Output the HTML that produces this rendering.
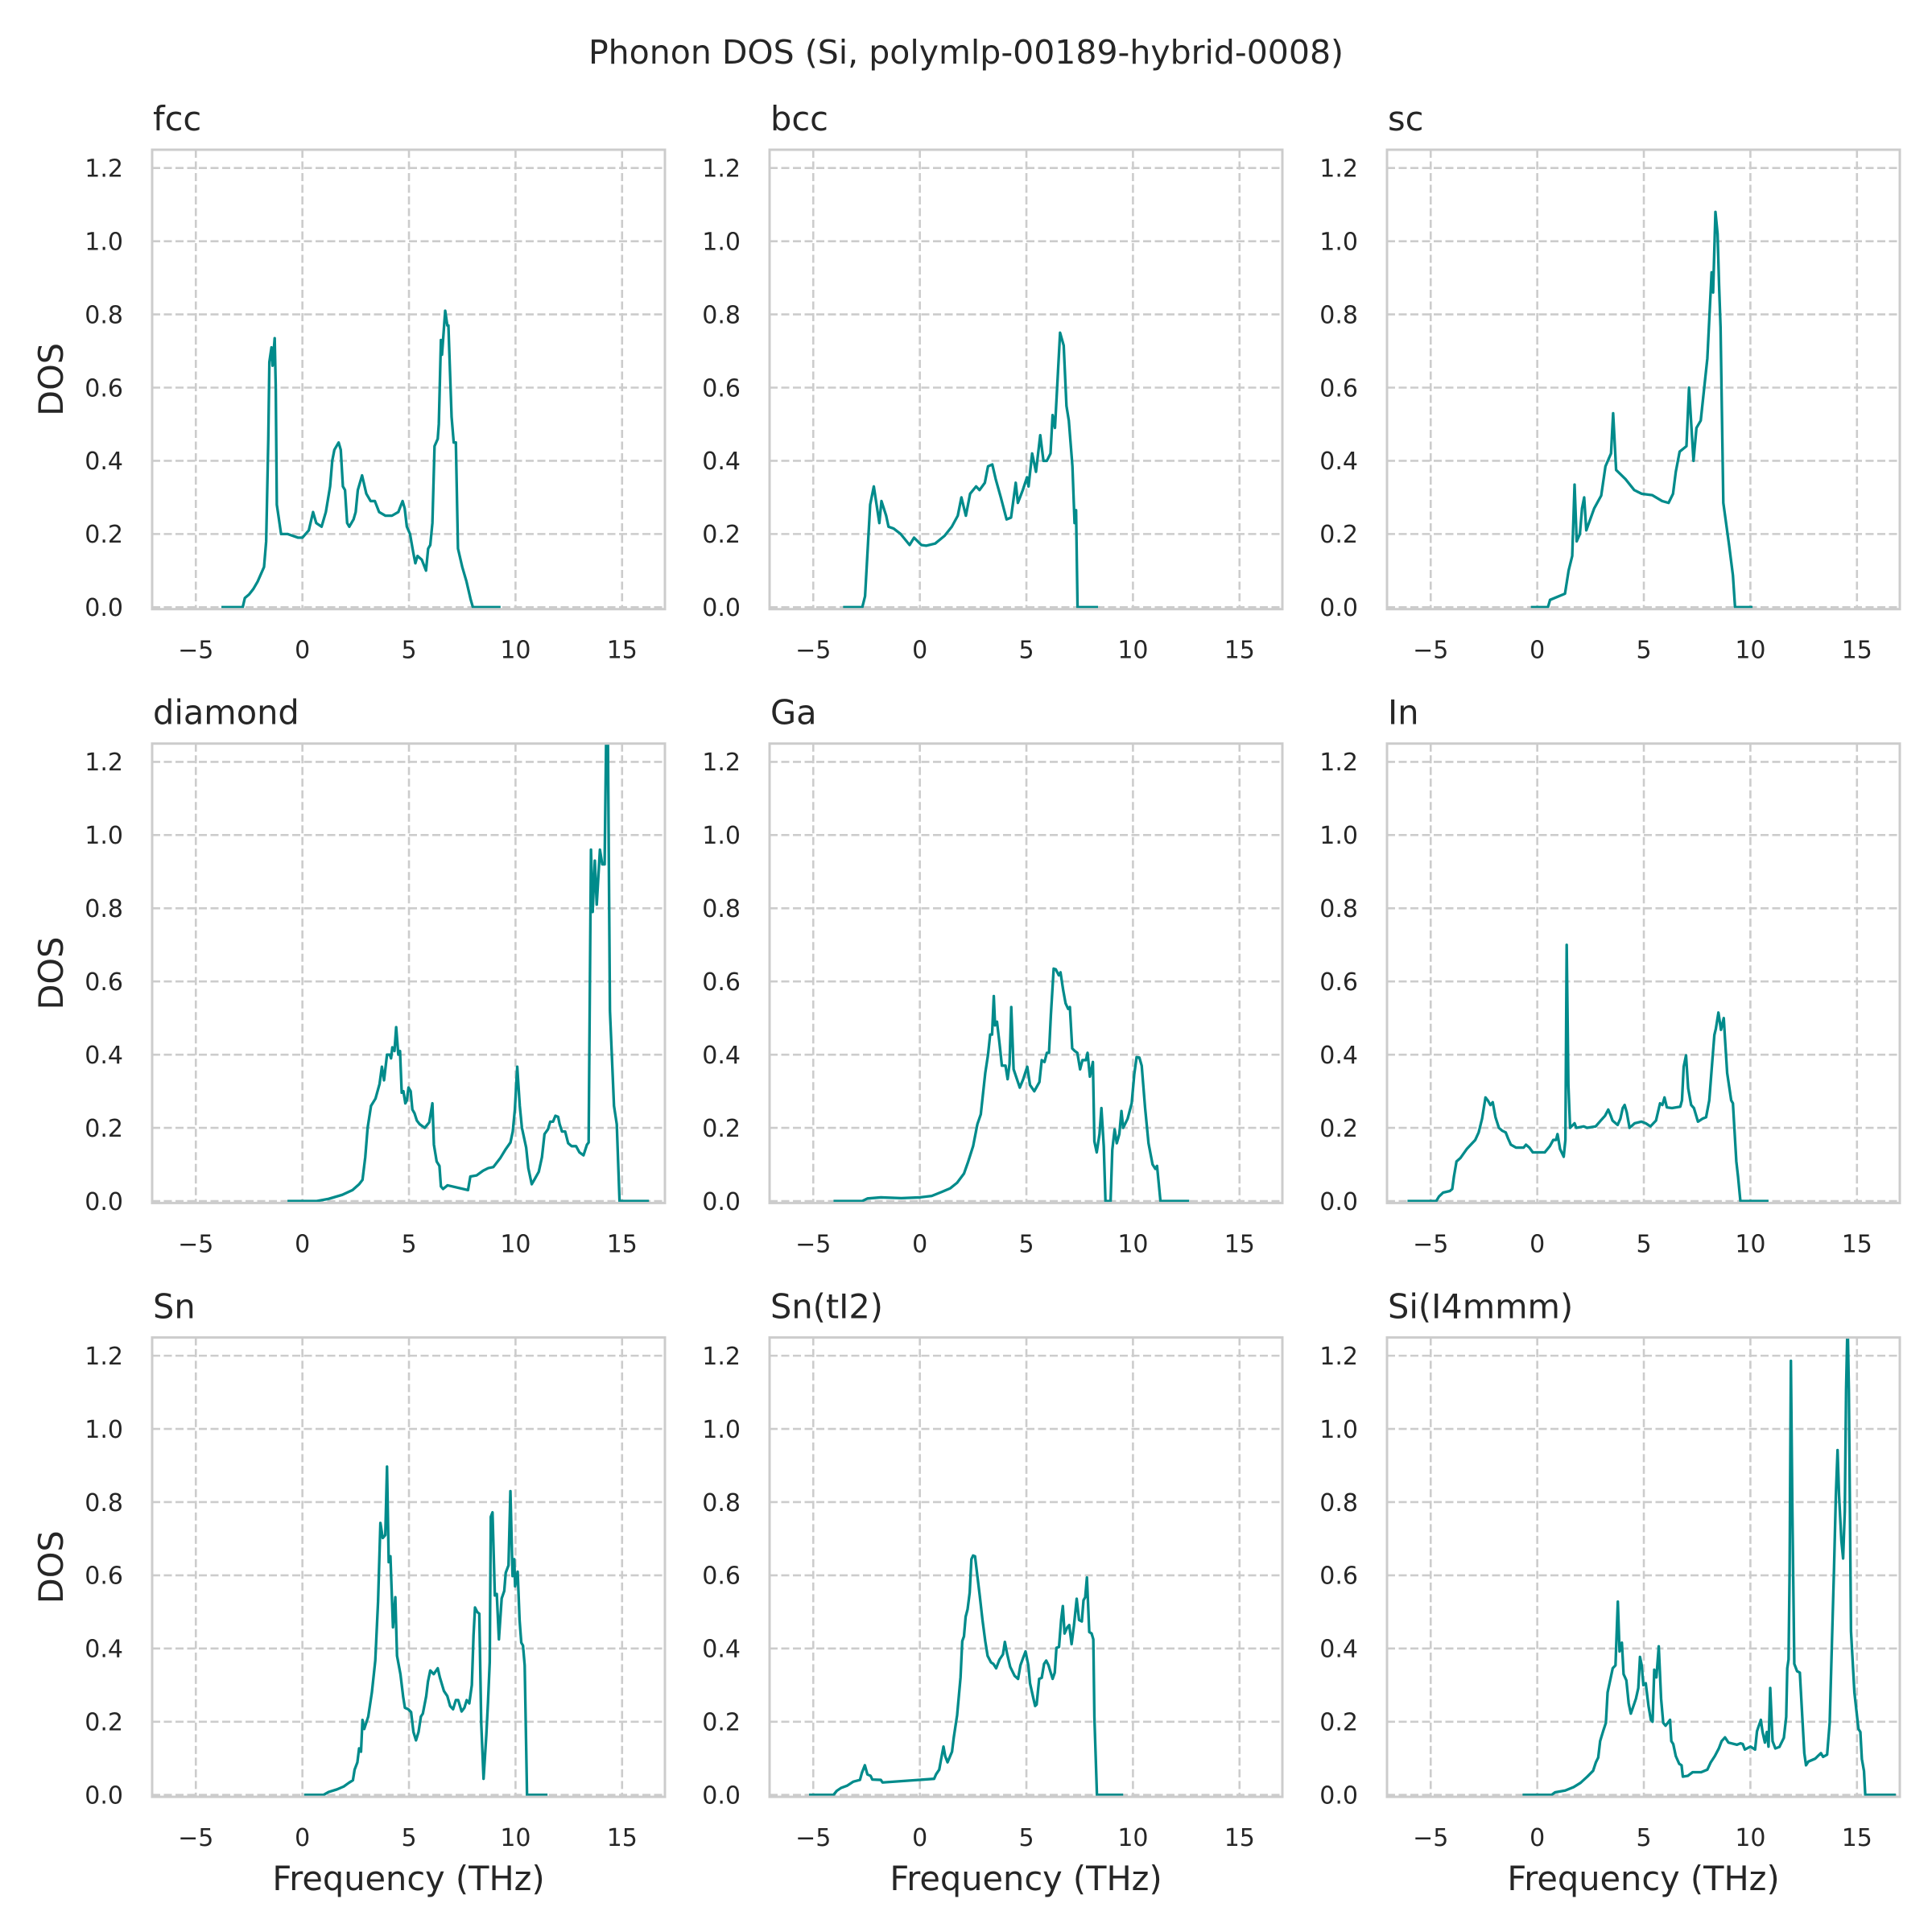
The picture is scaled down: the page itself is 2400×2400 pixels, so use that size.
<!DOCTYPE html>
<html>
<head>
<meta charset="utf-8">
<style>
  html,body{margin:0;padding:0;background:#fff;}
  svg{display:block;}
  text{font-family:"DejaVu Sans","Liberation Sans",sans-serif;fill:#262626;}
</style>
</head>
<body>
<svg id="fig" width="2400" height="2400" viewBox="0 0 2400 2400" xmlns="http://www.w3.org/2000/svg">
  <rect x="0" y="0" width="2400" height="2400" fill="#ffffff"/>
  <text x="1200" y="79" font-size="41" text-anchor="middle">Phonon DOS (Si, polymlp-00189-hybrid-0008)</text>
</svg>
<script>
// ---- chart data ----
const panelTitles = ["fcc","bcc","sc","diamond","Ga","In","Sn","Sn(tI2)","Si(I4mmm)"];
const xTicks = [-5,0,5,10,15];
const xTickLabels = ["\u22125","0","5","10","15"];
const yTicks = [0,0.2,0.4,0.6,0.8,1.0,1.2];
const yTickLabels = ["0.0","0.2","0.4","0.6","0.8","1.0","1.2"];
const xDomain = [-7.05, 17.01];
const yDomain = [-0.0053, 1.25];

const fccFreq = [-3.8,-2.8,-2.7,-2.5,-2.3,-2.1,-1.8,-1.7,-1.6,-1.55,-1.45,-1.4,-1.3,-1.25,-1.2,-1.0,-0.7,-0.2,0,0.3,0.5,0.65,0.9,1.1,1.3,1.4,1.5,1.7,1.8,1.9,2.0,2.1,2.2,2.4,2.5,2.6,2.8,3.0,3.2,3.4,3.6,3.9,4.1,4.2,4.5,4.7,4.8,4.9,5.05,5.2,5.3,5.4,5.6,5.8,5.9,6.0,6.1,6.2,6.35,6.4,6.5,6.55,6.7,6.8,6.85,7.0,7.1,7.2,7.3,7.5,7.7,7.9,8.0,9.3];
const fccDos  = [0,0,0.025,0.035,0.05,0.07,0.11,0.18,0.46,0.67,0.71,0.66,0.735,0.6,0.28,0.2,0.2,0.19,0.19,0.21,0.26,0.23,0.22,0.26,0.33,0.4,0.43,0.45,0.43,0.33,0.32,0.23,0.22,0.24,0.26,0.32,0.36,0.31,0.29,0.29,0.26,0.25,0.25,0.25,0.26,0.29,0.27,0.22,0.2,0.15,0.12,0.14,0.13,0.1,0.16,0.17,0.23,0.44,0.46,0.5,0.73,0.69,0.81,0.77,0.77,0.52,0.45,0.45,0.16,0.11,0.07,0.02,0,0];

const bccFreq = [-3.6,-2.7,-2.57,-2.33,-2.16,-1.9,-1.8,-1.58,-1.47,-1.23,-0.9,-0.48,-0.27,0.07,0.3,0.72,1.16,1.5,1.78,1.95,2.16,2.36,2.64,2.8,3.05,3.2,3.4,3.56,3.8,4.07,4.28,4.5,4.6,4.83,5.03,5.1,5.27,5.45,5.55,5.65,5.8,5.96,6.13,6.23,6.34,6.47,6.58,6.75,6.88,6.99,7.16,7.26,7.33,7.4,8.36];
const bccDos  = [0,0,0.03,0.28,0.33,0.23,0.29,0.25,0.22,0.215,0.2,0.17,0.19,0.17,0.168,0.174,0.195,0.22,0.25,0.3,0.25,0.31,0.33,0.32,0.34,0.385,0.39,0.35,0.3,0.24,0.245,0.34,0.285,0.32,0.355,0.33,0.42,0.37,0.42,0.47,0.4,0.4,0.42,0.525,0.49,0.63,0.75,0.715,0.55,0.51,0.385,0.23,0.265,0,0];

const scFreq = [-0.3,0.5,0.6,1.3,1.47,1.64,1.75,1.85,2.0,2.1,2.2,2.3,2.67,3.0,3.2,3.46,3.56,3.7,4.14,4.55,4.9,5.4,5.86,6.16,6.37,6.5,6.68,7.0,7.12,7.33,7.47,7.67,7.98,8.18,8.25,8.36,8.46,8.53,8.6,8.73,9.0,9.18,9.28,10.1];
const scDos  = [0,0,0.02,0.037,0.1,0.14,0.335,0.18,0.2,0.27,0.3,0.21,0.27,0.305,0.385,0.42,0.53,0.375,0.35,0.32,0.31,0.306,0.29,0.285,0.31,0.37,0.425,0.44,0.6,0.4,0.49,0.51,0.68,0.915,0.86,1.08,1.02,0.88,0.765,0.285,0.17,0.087,0,0];

const diamondFreq = [-0.7,0.67,1.23,1.87,2.35,2.66,2.82,2.95,3.06,3.22,3.43,3.62,3.73,3.83,3.97,4.1,4.16,4.22,4.32,4.4,4.5,4.58,4.66,4.74,4.83,4.9,4.98,5.08,5.16,5.26,5.37,5.5,5.74,5.95,6.1,6.17,6.3,6.43,6.5,6.6,6.81,7.77,7.88,8.17,8.48,8.72,8.96,9.28,9.52,9.76,9.87,9.97,10.08,10.2,10.3,10.5,10.6,10.76,10.88,11.09,11.24,11.36,11.52,11.63,11.76,11.87,12.0,12.07,12.18,12.33,12.47,12.63,12.84,13.0,13.19,13.35,13.43,13.54,13.62,13.72,13.81,13.96,14.07,14.18,14.26,14.33,14.43,14.62,14.75,14.88,16.26];
const diamondDos  = [0,0,0.006,0.017,0.03,0.046,0.058,0.12,0.2,0.26,0.28,0.32,0.367,0.33,0.4,0.4,0.39,0.42,0.41,0.475,0.4,0.41,0.296,0.3,0.267,0.275,0.31,0.3,0.25,0.24,0.22,0.21,0.2,0.215,0.267,0.154,0.108,0.096,0.04,0.033,0.043,0.03,0.067,0.07,0.083,0.09,0.093,0.117,0.14,0.16,0.19,0.25,0.367,0.26,0.2,0.146,0.09,0.046,0.058,0.08,0.12,0.183,0.196,0.217,0.217,0.233,0.23,0.21,0.19,0.19,0.158,0.15,0.15,0.133,0.125,0.154,0.16,0.96,0.79,0.93,0.81,0.96,0.92,0.92,1.3,1.3,0.52,0.26,0.21,0,0];

const gaFreq = [-4.05,-2.7,-2.46,-1.83,-0.87,0,0.56,1.03,1.43,1.75,2.07,2.27,2.5,2.7,2.86,3.07,3.2,3.3,3.39,3.47,3.53,3.62,3.74,3.85,4.02,4.12,4.21,4.29,4.4,4.69,4.85,5.04,5.17,5.37,5.61,5.72,5.85,5.96,6.06,6.15,6.28,6.38,6.52,6.6,6.73,6.84,6.96,7.04,7.15,7.27,7.39,7.52,7.63,7.79,7.87,7.98,8.12,8.19,8.3,8.43,8.52,8.63,8.71,8.95,9.03,9.14,9.24,9.36,9.46,9.54,9.75,9.94,10.06,10.17,10.3,10.41,10.57,10.73,10.92,11.05,11.13,11.29,12.64];
const gaDos  = [0,0,0.007,0.01,0.008,0.01,0.014,0.025,0.035,0.05,0.075,0.108,0.15,0.21,0.237,0.35,0.4,0.455,0.455,0.56,0.48,0.49,0.43,0.37,0.37,0.333,0.375,0.53,0.36,0.31,0.333,0.367,0.317,0.3,0.325,0.385,0.38,0.405,0.405,0.51,0.635,0.633,0.617,0.625,0.575,0.54,0.525,0.53,0.417,0.41,0.405,0.36,0.385,0.385,0.405,0.34,0.38,0.163,0.133,0.183,0.254,0.15,0,0,0.14,0.196,0.158,0.183,0.246,0.2,0.225,0.267,0.346,0.393,0.392,0.37,0.254,0.158,0.1,0.088,0.096,0,0];

const inFreq = [-6.09,-4.74,-4.61,-4.42,-4.1,-3.99,-3.91,-3.79,-3.6,-3.31,-3.12,-2.91,-2.75,-2.59,-2.43,-2.32,-2.2,-2.09,-1.96,-1.8,-1.64,-1.48,-1.37,-1.24,-1.0,-0.64,-0.53,-0.37,-0.21,0.35,0.59,0.75,0.88,0.95,1.07,1.24,1.32,1.38,1.46,1.54,1.75,1.83,2.18,2.34,2.74,2.98,3.18,3.33,3.45,3.53,3.77,3.9,4.01,4.1,4.2,4.33,4.57,4.88,5.09,5.31,5.57,5.76,5.87,5.97,6.08,6.32,6.71,6.79,6.87,6.98,7.08,7.22,7.35,7.54,7.75,7.92,8.07,8.18,8.31,8.38,8.5,8.62,8.75,8.81,8.91,9.1,9.18,9.34,9.42,9.53,10.85];
const inDos  = [0,0,0.0125,0.023,0.0275,0.033,0.067,0.108,0.118,0.142,0.154,0.167,0.1875,0.225,0.283,0.275,0.2625,0.27,0.229,0.2,0.192,0.1875,0.171,0.154,0.146,0.146,0.154,0.146,0.133,0.133,0.15,0.167,0.167,0.183,0.142,0.121,0.167,0.7,0.317,0.2,0.2125,0.2,0.204,0.2,0.204,0.22,0.233,0.25,0.233,0.22,0.208,0.225,0.254,0.2625,0.242,0.2,0.2125,0.217,0.2125,0.204,0.22,0.267,0.2625,0.283,0.256,0.254,0.258,0.275,0.367,0.398,0.308,0.2625,0.254,0.217,0.225,0.229,0.275,0.358,0.454,0.471,0.515,0.468,0.5,0.442,0.35,0.275,0.267,0.108,0.067,0,0];

const snFreq = [0.08,0.99,1.23,1.62,1.94,2.18,2.37,2.45,2.58,2.66,2.75,2.82,2.9,3.09,3.26,3.42,3.55,3.66,3.77,3.89,3.97,4.05,4.13,4.25,4.36,4.44,4.6,4.73,4.81,4.97,5.1,5.21,5.33,5.45,5.56,5.65,5.81,5.89,6.0,6.16,6.35,6.45,6.64,6.8,6.93,7.07,7.2,7.31,7.47,7.6,7.71,7.83,7.95,8.03,8.1,8.2,8.3,8.39,8.5,8.63,8.71,8.79,8.84,8.92,9.03,9.12,9.22,9.35,9.47,9.54,9.67,9.76,9.86,9.94,9.98,10.1,10.19,10.27,10.35,10.43,10.54,11.5];
const snDos  = [0,0,0.008,0.015,0.023,0.033,0.04,0.069,0.089,0.127,0.118,0.205,0.18,0.214,0.28,0.367,0.528,0.743,0.702,0.71,0.897,0.636,0.652,0.458,0.54,0.38,0.33,0.267,0.238,0.234,0.226,0.172,0.149,0.172,0.214,0.222,0.27,0.309,0.34,0.33,0.346,0.321,0.284,0.27,0.243,0.234,0.259,0.259,0.228,0.238,0.259,0.25,0.3,0.437,0.512,0.5,0.495,0.197,0.044,0.164,0.255,0.363,0.76,0.772,0.545,0.549,0.425,0.537,0.557,0.607,0.627,0.83,0.598,0.644,0.57,0.61,0.478,0.416,0.408,0.354,0,0];

const snTI2Freq = [-5.2,-4.05,-3.9,-3.7,-3.42,-3.13,-2.81,-2.72,-2.58,-2.46,-2.31,-2.23,-1.83,-1.75,0.67,0.76,0.91,1.0,1.11,1.19,1.3,1.51,1.59,1.75,1.91,1.99,2.07,2.15,2.24,2.34,2.42,2.5,2.59,2.69,2.81,2.94,3.07,3.18,3.34,3.45,3.58,3.74,3.9,3.99,4.09,4.24,4.45,4.61,4.72,4.85,4.96,5.09,5.17,5.33,5.41,5.48,5.6,5.72,5.83,5.93,6.04,6.12,6.23,6.33,6.41,6.53,6.63,6.71,6.79,6.92,7.01,7.12,7.23,7.36,7.47,7.6,7.68,7.76,7.84,7.95,8.06,8.14,8.19,8.31,9.54];
const snTI2Dos  = [0,0,0.011,0.019,0.025,0.036,0.041,0.06,0.081,0.056,0.052,0.042,0.041,0.034,0.044,0.056,0.069,0.098,0.132,0.106,0.089,0.118,0.156,0.218,0.321,0.42,0.433,0.487,0.507,0.553,0.644,0.654,0.652,0.603,0.545,0.478,0.42,0.38,0.362,0.358,0.346,0.37,0.384,0.418,0.387,0.35,0.325,0.317,0.354,0.375,0.392,0.354,0.305,0.263,0.243,0.247,0.317,0.32,0.358,0.367,0.354,0.338,0.317,0.334,0.402,0.404,0.478,0.516,0.441,0.458,0.464,0.412,0.462,0.536,0.478,0.474,0.532,0.54,0.594,0.445,0.441,0.425,0.213,0,0];

const siI4Freq = [-0.69,0.67,0.83,1.31,1.71,2.03,2.35,2.62,2.75,2.86,2.95,3.1,3.22,3.3,3.42,3.54,3.67,3.78,3.86,3.97,4.05,4.18,4.29,4.39,4.63,4.74,4.82,4.9,4.98,5.09,5.22,5.33,5.41,5.49,5.59,5.7,5.81,5.91,6.02,6.23,6.29,6.38,6.5,6.66,6.77,6.83,7.06,7.29,7.69,7.98,8.14,8.33,8.52,8.65,8.81,8.97,9.37,9.53,9.64,9.74,10.0,10.22,10.31,10.49,10.57,10.68,10.77,10.85,10.93,11.04,11.17,11.36,11.57,11.68,11.73,11.79,11.84,11.9,11.97,12.06,12.19,12.32,12.45,12.53,12.61,12.72,13.04,13.2,13.31,13.41,13.6,13.72,13.92,14.01,14.09,14.16,14.27,14.35,14.43,14.49,14.56,14.62,14.72,14.88,15.07,15.16,15.23,15.33,15.39,16.82];
const siI4Dos  = [0,0,0.007,0.012,0.0215,0.033,0.05,0.066,0.089,0.102,0.147,0.176,0.197,0.28,0.313,0.346,0.354,0.528,0.392,0.416,0.33,0.313,0.25,0.222,0.263,0.292,0.377,0.354,0.3,0.305,0.243,0.205,0.2,0.342,0.321,0.406,0.263,0.197,0.189,0.205,0.147,0.139,0.106,0.085,0.081,0.05,0.052,0.062,0.062,0.069,0.089,0.106,0.127,0.147,0.157,0.143,0.137,0.141,0.139,0.124,0.132,0.124,0.174,0.205,0.172,0.143,0.172,0.132,0.292,0.147,0.127,0.131,0.156,0.213,0.346,0.37,0.611,1.186,0.776,0.358,0.338,0.334,0.197,0.114,0.081,0.091,0.099,0.108,0.114,0.104,0.11,0.197,0.611,0.818,0.942,0.818,0.694,0.646,0.776,1.108,1.3,1.108,0.447,0.28,0.18,0.172,0.098,0.065,0,0];

const seriesFreq = [fccFreq,bccFreq,scFreq,diamondFreq,gaFreq,inFreq,snFreq,snTI2Freq,siI4Freq];
const seriesDos  = [fccDos,bccDos,scDos,diamondDos,gaDos,inDos,snDos,snTI2Dos,siI4Dos];

// ---- layout ----
const NS = "http://www.w3.org/2000/svg";
const svg = document.getElementById("fig");
const colLeft = [189, 956, 1723];
const rowTop = [186, 923.7, 1661.4];
const AW = 637, AH = 570.7;

function mk(tag, attrs, parent){
  const e = document.createElementNS(NS, tag);
  for (const k in attrs) e.setAttribute(k, attrs[k]);
  (parent||svg).appendChild(e);
  return e;
}
const defs = mk("defs", {});

panelTitles.forEach((title, i) => {
  const r = Math.floor(i/3), c = i%3;
  const L = colLeft[c], T = rowTop[r];
  const sx = v => L + (v - xDomain[0]) / (xDomain[1]-xDomain[0]) * AW;
  const sy = v => T + AH - (v - yDomain[0]) / (yDomain[1]-yDomain[0]) * AH;

  const g = mk("g", {});
  
  

  const cp = mk("clipPath", {id:"clip"+i}, defs);
  mk("rect", {x:L, y:T, width:AW, height:AH}, cp);

  xTicks.forEach(t => {
    const gl = mk("line", {x1:sx(t), x2:sx(t), y1:T, y2:T+AH, stroke:"#cccccc", "stroke-width":2.6, "stroke-dasharray":"10,4.5"}, g);
    
    
  });
  yTicks.forEach(t => {
    const gl = mk("line", {x1:L, x2:L+AW, y1:sy(t), y2:sy(t), stroke:"#cccccc", "stroke-width":2.6, "stroke-dasharray":"10,4.5"}, g);
    
    
  });

  const fr = seriesFreq[i], ds = seriesDos[i];
  let d = "";
  for (let k=0;k<fr.length;k++) d += (k?"L":"M") + sx(fr[k]).toFixed(2) + "," + sy(ds[k]).toFixed(2);
  const path = mk("path", {d:d, fill:"none", stroke:"#008b8b", "stroke-width":3.3, "stroke-linejoin":"round", "clip-path":"url(#clip"+i+")"}, g);
  
  

  const sp = mk("rect", {x:L, y:T, width:AW, height:AH, fill:"none", stroke:"#cccccc", "stroke-width":3}, g);
  
  

  xTicks.forEach((t, k) => {
    const tx = mk("text", {x:sx(t), y:T+AH+61, "font-size":30, "text-anchor":"middle"}, g);
    tx.textContent = xTickLabels[k];
    
    
  });
  yTicks.forEach((t, k) => {
    const tx = mk("text", {x:L-36, y:sy(t)+10.8, "font-size":30, "text-anchor":"end"}, g);
    tx.textContent = yTickLabels[k];
    
    
  });

  const tt = mk("text", {x:L+1, y:T-24, "font-size":41.5}, g);
  tt.textContent = title;
  
  

  if (c === 0) {
    const yl = mk("text", {x:0, y:0, "font-size":41.5, "text-anchor":"middle", transform:"translate(78,"+(T+AH/2)+") rotate(-90)"}, g);
    yl.textContent = "DOS";
    
    
  }
  if (r === 2) {
    const xl = mk("text", {x:L+AW/2, y:T+AH+116, "font-size":41.5, "text-anchor":"middle"}, g);
    xl.textContent = "Frequency (THz)";
    
    
  }
});
</script>
</body>
</html>
